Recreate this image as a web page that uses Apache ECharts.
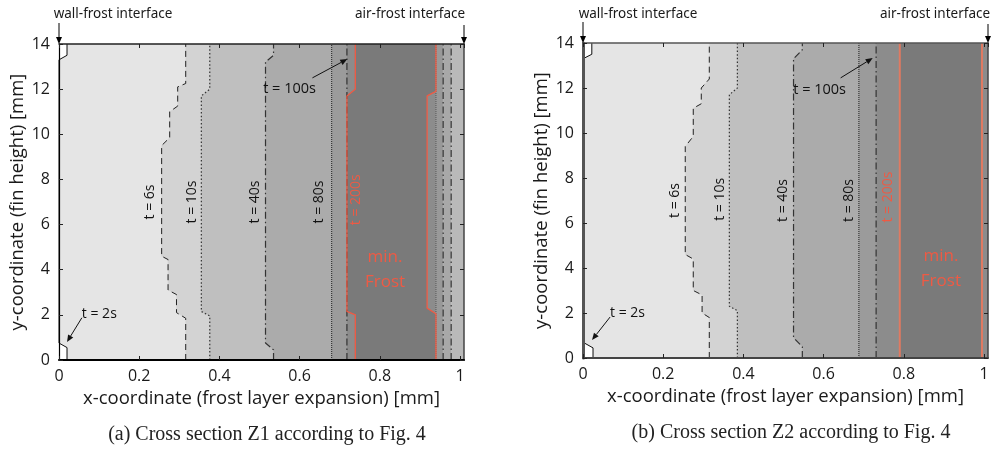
<!DOCTYPE html>
<html><head><meta charset="utf-8">
<script src="https://cdn.jsdelivr.net/npm/echarts@6/dist/echarts.min.js"></script>
<style>html,body{margin:0;padding:0;background:#fff}#main{width:994px;height:449px}</style>
</head><body><div id="main"></div>
<script>
// ---------- data ----------
const xTickValues = [0, 0.2, 0.4, 0.6, 0.8, 1];
const yTickValues = [0, 2, 4, 6, 8, 10, 12, 14];
const xMax = 1.01, yMax = 14;

// Panel (a) Z1: contour lines, [x, y] points from bottom to top
const a_t2   = [[0.02,0],[0.02,0.55],[0,0.75],[0,13.3],[0.02,13.5],[0.02,14]];
const a_t6   = [[0.316,0],[0.316,1.85],[0.293,2.1],[0.293,2.9],[0.272,3.1],[0.272,4.45],[0.256,4.6],[0.256,9.5],[0.276,9.85],[0.276,11.0],[0.296,11.25],[0.296,12.1],[0.316,12.25],[0.316,14]];
const a_t10  = [[0.376,0],[0.376,1.95],[0.355,2.15],[0.355,11.7],[0.376,12.0],[0.376,14]];
const a_t40  = [[0.535,0],[0.535,0.45],[0.515,0.75],[0.515,13.2],[0.535,13.5],[0.535,14]];
const a_t80  = [[0.68,0],[0.68,14]];
const a_t100 = [[0.718,0],[0.718,14]];
const a_t200L = [[0.739,0],[0.739,2.0],[0.718,2.15],[0.718,11.7],[0.739,12.0],[0.739,14]];
const a_t200R = [[0.94,0],[0.94,2.05],[0.918,2.3],[0.918,11.7],[0.94,11.9],[0.94,14]];
const a_r1 = [[0.94,0],[0.94,14]];
const a_r2 = [[0.958,0],[0.958,14]];
const a_r3 = [[0.978,0],[0.978,14]];

// Panel (b) Z2
const b_t2   = [[0.025,0],[0.025,0.45],[0,0.7],[0,13.3],[0.022,13.5],[0.022,14]];
const b_t6   = [[0.315,0],[0.315,1.8],[0.297,2.0],[0.297,2.8],[0.275,3.0],[0.275,4.4],[0.255,4.6],[0.255,9.4],[0.275,9.85],[0.275,11.1],[0.295,11.3],[0.295,12.0],[0.315,12.4],[0.315,14]];
const b_t10  = [[0.385,0],[0.385,2.1],[0.365,2.3],[0.365,11.7],[0.385,12.0],[0.385,14]];
const b_t40  = [[0.547,0],[0.547,0.5],[0.525,0.9],[0.525,13.3],[0.547,13.7],[0.547,14]];
const b_t80  = [[0.688,0],[0.688,14]];
const b_t100 = [[0.731,0],[0.731,14]];
const b_t200L = [[0.79,0],[0.79,14]];
const b_t200R = [[0.995,0],[0.995,14]];

const edge = [[xMax,0],[xMax,14]];

// ---------- styles ----------
const DASH = [6,4], DOT = [1.5,2.2], DASHDOT = [7,3,1.5,3], FINE = [1,1];
const RED = '#ee5a44';

const regionsA = [
  [a_t2, a_t6, '#e5e5e5'], [a_t6, a_t10, '#d3d3d3'], [a_t10, a_t40, '#bfbfbf'],
  [a_t40, a_t80, '#ababab'], [a_t80, a_t100, '#9b9b9b'], [a_t100, a_t200L, '#8c8c8c'],
  [a_t200L, a_t200R, '#7a7a7a'], [a_t200R, a_r1, '#8c8c8c'], [a_r1, a_r2, '#999999'],
  [a_r2, a_r3, '#a8a8a8'], [a_r3, edge, '#b9b9b9']
];
const regionsB = [
  [b_t2, b_t6, '#e5e5e5'], [b_t6, b_t10, '#d3d3d3'], [b_t10, b_t40, '#bfbfbf'],
  [b_t40, b_t80, '#ababab'], [b_t80, b_t100, '#9b9b9b'], [b_t100, b_t200L, '#8c8c8c'],
  [b_t200L, b_t200R, '#7a7a7a'], [b_t200R, edge, '#8c8c8c']
];

const linesA = [
  [a_t2, 'solid', '#111', 1], [a_t6, DASH, '#222', 1], [a_t10, DOT, '#333', 1.2],
  [a_t40, DASHDOT, '#333', 1.2], [a_t80, FINE, '#222', 1], [a_t100, DASHDOT, '#333', 1.2],
  [a_r1, FINE, '#555', 1], [a_r2, DASHDOT, '#333', 1.2], [a_r3, DASHDOT, '#333', 1.2],
  [a_t200L, 'solid', RED, 1.3], [a_t200R, 'solid', RED, 1.3],
  [[[0.739,0],[0.94,0]], 'solid', RED, 1.3]
];
const linesB = [
  [b_t2, 'solid', '#111', 1], [b_t6, DASH, '#222', 1], [b_t10, DOT, '#333', 1.2],
  [b_t40, DASHDOT, '#333', 1.2], [b_t80, FINE, '#222', 1], [b_t100, DASHDOT, '#333', 1.2],
  [b_t200L, 'solid', '#e07a62', 2], [b_t200R, 'solid', '#e07a62', 2]
];

// rotated contour labels: [text, x, y, color]
const labelsA = [['t = 6s',0.226,7.0,'#111'],['t = 10s',0.331,7.0,'#111'],['t = 40s',0.488,7.0,'#111'],['t = 80s',0.649,7.0,'#111'],['t = 200s',0.741,7.1,RED]];
const labelsB = [['t = 6s',0.23,7.0,'#111'],['t = 10s',0.3425,7.05,'#111'],['t = 40s',0.5,7.0,'#111'],['t = 80s',0.6625,7.0,'#111'],['t = 200s',0.76,7.15,RED]];

const FONT = 'Open Sans';
const fontUI = 'Noto Sans';

function axesFor(gi, lineColL, lineWL, lineColB, lineWB) {
  const common = { min: 0, type: 'value', gridIndex: gi, z: 10, splitLine: { show: false } };
  return {
    x: [
      Object.assign({}, common, { max: xMax, interval: 0.2, position: 'bottom',
        axisLine: { show: true, onZero: false, lineStyle: { color: lineColB, width: lineWB } },
        axisTick: { show: true, inside: true, length: 4, lineStyle: { color: '#222' } },
        axisLabel: { show: true, showMaxLabel: false, margin: 8, fontSize: 16, color: '#1a1a1a', fontFamily: FONT,
          formatter: v => xTickValues.indexOf(+v.toFixed(2)) >= 0 ? String(+v.toFixed(2)) : '' },
        name: 'x-coordinate (frost layer expansion) [mm]', nameLocation: 'middle', nameGap: 29,
        nameTextStyle: { fontSize: 18.5, color: '#1a1a1a', fontFamily: FONT } }),
      Object.assign({}, common, { max: xMax, interval: 0.2, position: 'top',
        axisLine: { show: true, onZero: false, lineStyle: { color: lineColB === '#000' ? '#222' : '#555', width: 1.5 } },
        axisTick: { show: true, inside: true, length: 4, lineStyle: { color: '#222' } },
        axisLabel: { show: false } })
    ],
    y: [
      Object.assign({}, common, { max: yMax, interval: 2, position: 'left',
        axisLine: { show: true, onZero: false, lineStyle: { color: lineColL, width: lineWL } },
        axisTick: { show: true, inside: true, length: 4, lineStyle: { color: '#222' } },
        axisLabel: { show: true, margin: 9, fontSize: 16, color: '#1a1a1a', fontFamily: FONT },
        name: 'y-coordinate (fin height) [mm]', nameLocation: 'middle', nameGap: 32, nameRotate: 90,
        nameTextStyle: { fontSize: 18.5, color: '#1a1a1a', fontFamily: FONT } }),
      Object.assign({}, common, { max: yMax, interval: 2, position: 'right',
        axisLine: { show: true, onZero: false, lineStyle: { color: '#444', width: 1.5 } },
        axisTick: { show: true, inside: true, length: 4, lineStyle: { color: '#222' } },
        axisLabel: { show: false } })
    ]
  };
}

const axA = axesFor(0, '#000', 1.2, '#000', 2);
const axB = axesFor(1, '#555', 3, '#444', 2);

function regionSeries(regions, xi, yi) {
  return {
    type: 'custom', xAxisIndex: xi, yAxisIndex: yi, clip: true, silent: true, z: 1,
    data: regions.map(() => [0.5, 7]),
    renderItem: function (params, api) {
      const r = regions[params.dataIndex];
      const pts = r[0].concat(r[1].slice().reverse()).map(p => api.coord(p));
      return { type: 'polygon', shape: { points: pts }, style: { fill: r[2], stroke: r[2], lineWidth: 0.5 } };
    }
  };
}
function lineSeries(lines, xi, yi) {
  return lines.map(l => ({
    type: 'line', xAxisIndex: xi, yAxisIndex: yi, data: l[0], showSymbol: false, symbol: 'none',
    silent: true, z: 3, animation: false,
    lineStyle: { type: l[1], color: l[2], width: l[3] }
  }));
}

const option = {
  animation: false,
  backgroundColor: '#fff',
  grid: [
    { left: 59, top: 44, width: 405, height: 316 },
    { left: 583, top: 43, width: 405, height: 315 }
  ],
  xAxis: [axA.x[0], axA.x[1], axB.x[0], axB.x[1]],
  yAxis: [axA.y[0], axA.y[1], axB.y[0], axB.y[1]],
  series: [regionSeries(regionsA, 0, 0), regionSeries(regionsB, 2, 2)]
    .concat(lineSeries(linesA, 0, 0)).concat(lineSeries(linesB, 2, 2))
};

const chart = echarts.init(document.getElementById('main'), null, { renderer: 'canvas' });
chart.setOption(option);

function P(panel, x, y) {
  const idx = panel === 0 ? 0 : 2;
  return chart.convertToPixel({ xAxisIndex: idx, yAxisIndex: idx }, [x, y]);
}
function arrow(x1, y1, x2, y2, color) {
  const ang = Math.atan2(y2 - y1, x2 - x1), L = 7, W = 3;
  const bx = x2 - L * Math.cos(ang), by = y2 - L * Math.sin(ang);
  const nx = -Math.sin(ang) * W, ny = Math.cos(ang) * W;
  return [
    { type: 'line', shape: { x1, y1, x2: bx, y2: by }, style: { stroke: color, lineWidth: 1 }, z: 20 },
    { type: 'polygon', shape: { points: [[x2, y2], [bx + nx, by + ny], [bx - nx, by - ny]] }, style: { fill: color }, z: 20 }
  ];
}
function txt(text, x, y, opts) {
  return Object.assign({ type: 'text', x, y, z: 20,
    style: Object.assign({ text, fill: '#111', font: '14px "' + FONT + '"', align: 'center', verticalAlign: 'middle' }, opts || {}) });
}

const g = [];
[[labelsA, 0], [labelsB, 1]].forEach(([labs, p]) => {
  labs.forEach(l => {
    const c = P(p, l[1], l[2]);
    g.push({ type: 'text', x: c[0], y: c[1], rotation: Math.PI / 2, z: 20,
      style: { text: l[0], fill: l[3], font: '14px "' + FONT + '"', align: 'center', verticalAlign: 'middle' } });
  });
});
// min. Frost
[[0, 0.813, 4.0], [1, 0.8925, 3.96]].forEach(([p, x, y]) => {
  const c = P(p, x, y);
  g.push(txt('min.\nFrost', c[0], c[1], { fill: RED, font: '17px "' + FONT + '"', lineHeight: 25 }));
});
// t = 2s
[[0, 0.057, 2.05, 0.057, 1.87, 0.02, 0.8], [1, 0.0675, 2.0, 0.0675, 1.82, 0.0225, 0.8]].forEach(([p, tx, ty, ax1, ay1, ax2, ay2]) => {
  const c = P(p, tx, ty), a1 = P(p, ax1, ay1), a2 = P(p, ax2, ay2);
  g.push(txt('t = 2s', c[0], c[1], { align: 'left' }));
  arrow(a1[0], a1[1], a2[0], a2[1], '#111').forEach(e => g.push(e));
});
// t = 100s
[[0, 0.575, 12.0, 0.632, 12.5, 0.719, 13.33], [1, 0.59, 11.9, 0.6425, 12.45, 0.7225, 13.33]].forEach(([p, tx, ty, ax1, ay1, ax2, ay2]) => {
  const c = P(p, tx, ty), a1 = P(p, ax1, ay1), a2 = P(p, ax2, ay2);
  g.push(txt('t = 100s', c[0], c[1], { font: '14.5px "' + FONT + '"' }));
  arrow(a1[0], a1[1], a2[0], a2[1], '#111').forEach(e => g.push(e));
});
// interface annotations
[[0, 113, 410], [1, 638, 935]].forEach(([p, wx, ax]) => {
  const l = P(p, 0, yMax), r = P(p, xMax, yMax);
  g.push(txt('wall-frost interface', wx, 14, { font: '13.5px "' + fontUI + '"', fill: '#1a1a1a' }));
  g.push(txt('air-frost interface', ax, 14, { font: '13.5px "' + fontUI + '"', fill: '#1a1a1a' }));
  arrow(l[0], l[1] - 21, l[0], l[1], '#000').forEach(e => g.push(e));
  arrow(r[0], r[1] - 19, r[0], r[1], '#000').forEach(e => g.push(e));
});
// captions
g.push(txt('(a) Cross section Z1 according to Fig. 4', 267, 435, { font: '20px "Liberation Serif"', fill: '#222' }));
g.push(txt('(b) Cross section Z2 according to Fig. 4', 791, 433, { font: '20px "Liberation Serif"', fill: '#222' }));

chart.setOption({ graphic: g });
</script>
</body></html>
